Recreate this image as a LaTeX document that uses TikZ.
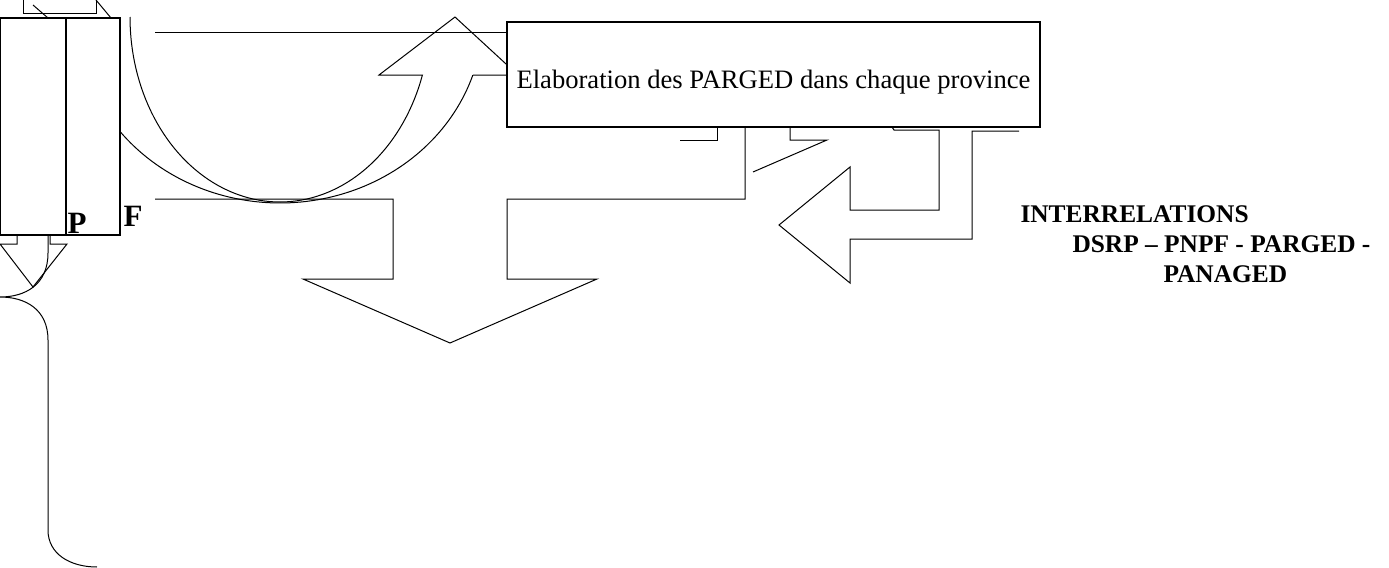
\documentclass[tikz,border=0pt]{standalone}
\usepackage{fontspec}
\setmainfont{Liberation Serif}
\usetikzlibrary{positioning}

\begin{document}
\begin{tikzpicture}[x=0.5pt, y=-0.5pt, line width=0.5pt,
    blk/.style = {draw, fill=white, inner sep=0pt, outer sep=0pt, line width=0.8pt},
    lbl/.style = {inner sep=0pt, font=\fontsize{15.5pt}{17pt}\selectfont\bfseries},
    note/.style = {inner sep=0pt, anchor=base west, font=\fontsize{12.7pt}{15pt}\selectfont\bfseries}]
            \useasboundingbox (0,0) rectangle (1389,568);
            % shapes behind the boxes
            \draw (23,0) -- (23,13) -- (96,13) -- (96,0);
            \draw (33,5) -- (48,18);
            \draw (96,0) -- (111,18);
            \draw (17,235) -- (17,244) -- (0,244) -- (33,287) -- (67,244) -- (50,244) -- (50,235);
            \draw (97,27) .. controls (70,27) and (48,40) .. (48,64) -- (48,253)
                  .. controls (48,285) and (25,297) .. (0,297)
                  .. controls (25,297) and (48,309) .. (48,340) -- (48,530)
                  .. controls (48,554) and (70,567) .. (97,567);
            \draw plot[domain=180:341.7, samples=80] ({280+150*cos(\x)}, {17-185*sin(\x)})
                  -- (379,75) -- (455,17) -- (518,75) -- (473,75);
            \draw plot[domain=218:341.8, samples=80] ({280+203*cos(\x)}, {17-186*sin(\x)});
            \draw (155,32) -- (507,32);
            \draw (155,199) -- (393,199) -- (393,279) -- (303,279) -- (450,343) -- (597,279)
                  -- (507,279) -- (507,199) -- (745,199) -- (745,127);
            \draw (717,127) -- (717,140) -- (680,140);
            \draw (790,127) -- (790,140) -- (827,140) -- (753,172);
            \draw (892,127) -- (894,130) -- (939,130) -- (939,210) -- (850,210) -- (850,167)
                  -- (779,225) -- (850,283) -- (850,239) -- (972,239) -- (972,131) -- (1019,131);
            % boxes
            \node[blk, anchor=north west, minimum width=33pt, minimum height=108.5pt] (colp) at (0,18) {};
            \node[blk, anchor=north west, minimum width=27pt, minimum height=108.5pt] (colf) at (colp.north east) {};
            \node[blk, anchor=north west, minimum width=266.5pt, minimum height=52.5pt,
                  font=\fontsize{13.3pt}{16pt}\selectfont] (parged) at (507,22)
                  {\raisebox{-4pt}[\height][\depth]{Elaboration des PARGED dans chaque province}};
            \node[lbl, anchor=base] (lblp) at (77,233) {P};
            \node[lbl, anchor=base] (lblf) at (133,226) {F};
            \node[note] (ttl) at (1020,222) {INTERRELATIONS};
            \node[note] (sub) at (1072,252) {DSRP – PNPF - PARGED -};
            \node[note] (sub2) at (1163,282) {PANAGED};
        \end{tikzpicture}
\end{document}
